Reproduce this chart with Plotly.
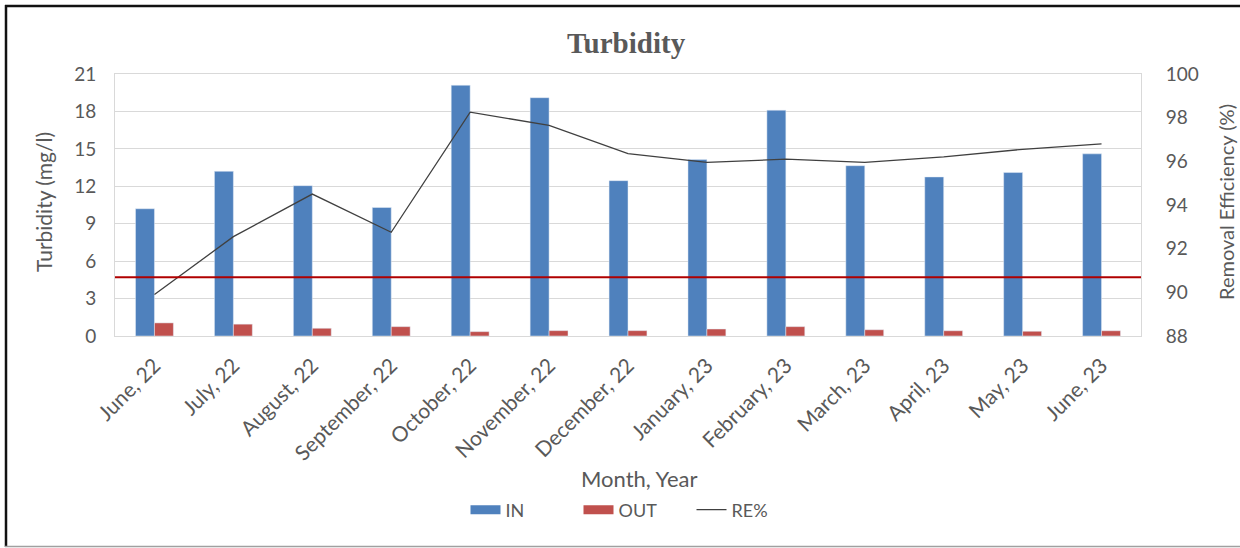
import plotly.graph_objects as go

# Monthly turbidity data (inlet / outlet) and removal efficiency
months = ["June, 22", "July, 22", "August, 22", "September, 22", "October, 22",
          "November, 22", "December, 22", "January, 23", "February, 23",
          "March, 23", "April, 23", "May, 23", "June, 23"]
turb_in = [10.2, 13.2, 12.05, 10.3, 20.1, 19.1, 12.45, 14.15, 18.1,
           13.65, 12.75, 13.1, 14.6]
turb_out = [1.05, 0.95, 0.62, 0.75, 0.35, 0.43, 0.43, 0.56, 0.75,
            0.5, 0.42, 0.38, 0.42]
removal_eff = [89.9, 92.55, 94.5, 92.75, 98.25, 97.65, 96.35, 95.95, 96.1,
               95.95, 96.2, 96.55, 96.8]
left_ticks = [0, 3, 6, 9, 12, 15, 18, 21]
right_ticks = [88, 90, 92, 94, 96, 98, 100]
limit_line = 4.7

FONT = "Lato"
GREY = "#595959"
BLUE = "#4F81BD"
RED = "#C0504D"

# plot-area geometry in pixels (for converting frame position to paper coords)
W, H = 1240, 548
L, R, T, B = 115, 99, 74, 212
pw, ph = W - L - R, H - T - B


def px_x(x):
    return (x - L) / pw


def px_y(y):
    return (H - B - y) / ph


fig = go.Figure()
fig.add_trace(go.Bar(x=months, y=turb_in, name="IN", marker_color=BLUE,
                     yaxis="y", legendgroup="in", showlegend=False))
fig.add_trace(go.Bar(x=months, y=turb_out, name="OUT", marker_color=RED,
                     yaxis="y", legendgroup="out", showlegend=False))
fig.add_trace(go.Scatter(x=months, y=removal_eff, name="RE%", mode="lines",
                         line=dict(color="#404040", width=1.3), yaxis="y2",
                         showlegend=False, legendgroup="re"))

# legend entries drawn as wide swatches
fig.add_trace(go.Scatter(x=[None], y=[None], mode="lines", name="IN",
                         line=dict(color=BLUE, width=9), legendgroup="in"))
fig.add_trace(go.Scatter(x=[None], y=[None], mode="lines", name="OUT",
                         line=dict(color=RED, width=9), legendgroup="out"))
fig.add_trace(go.Scatter(x=[None], y=[None], mode="lines", name="RE%",
                         line=dict(color="#404040", width=1.3),
                         legendgroup="re"))

shapes = [
    # threshold line
    dict(type="line", xref="paper", yref="y", x0=0, x1=1, y0=limit_line,
         y1=limit_line, line=dict(color="#B00000", width=2)),
    # chart frame
    dict(type="line", xref="paper", yref="paper", x0=px_x(5), x1=px_x(1240),
         y0=px_y(6), y1=px_y(6), line=dict(color="#111111", width=2.5)),
    dict(type="line", xref="paper", yref="paper", x0=px_x(6), x1=px_x(6),
         y0=px_y(5), y1=px_y(547), line=dict(color="#111111", width=2.5)),
    dict(type="line", xref="paper", yref="paper", x0=px_x(5), x1=px_x(1240),
         y0=px_y(546.5), y1=px_y(546.5), line=dict(color="#A0A0A0", width=1.5)),
]

annotations = [
    dict(text="Turbidity (mg/l)", xref="paper", yref="paper",
         x=px_x(43), y=px_y(202), xanchor="center", yanchor="middle",
         textangle=-90, showarrow=False,
         font=dict(family=FONT, size=21, color=GREY)),
    dict(text="Removal Efficiency (%)", xref="paper", yref="paper",
         x=px_x(1226), y=px_y(202), xanchor="center", yanchor="middle",
         textangle=-90, showarrow=False,
         font=dict(family=FONT, size=20, color=GREY)),
    dict(text="Month, Year", xref="paper", yref="paper",
         x=px_x(639), y=px_y(478), xanchor="center", yanchor="middle",
         showarrow=False, font=dict(family=FONT, size=22, color=GREY)),
]

fig.update_layout(
    width=W, height=H,
    margin=dict(l=L, r=R, t=T, b=B),
    paper_bgcolor="white", plot_bgcolor="white",
    title=dict(text="<b>Turbidity</b>", x=px_x(633), xanchor="center",
               y=1 - 43 / H, yanchor="middle",
               font=dict(family="Liberation Serif", size=29, color=GREY)),
    barmode="group", bargap=0.52, bargroupgap=0,
    xaxis=dict(type="category", tickangle=-45, showgrid=False,
               tickfont=dict(family=FONT, size=21, color=GREY),
               showline=True, linecolor="#D9D9D9", linewidth=1, mirror=True,
               ticks="", ticklabelstandoff=8),
    yaxis=dict(range=[0, 21], tickvals=left_ticks, showgrid=True,
               gridcolor="#D9D9D9", gridwidth=1, zeroline=False,
               tickfont=dict(family=FONT, size=19, color=GREY),
               showline=True, linecolor="#D9D9D9", ticks="", ticklabelstandoff=14),
    yaxis2=dict(range=[88, 100], tickvals=right_ticks, overlaying="y",
                side="right", showgrid=False, zeroline=False,
                tickfont=dict(family=FONT, size=19, color=GREY),
                showline=True, linecolor="#D9D9D9", ticks="",
                ticklabelstandoff=20),
    legend=dict(orientation="h", xanchor="center", x=px_x(635),
                yanchor="middle", y=px_y(510), entrywidth=68,
                entrywidthmode="pixels",
                font=dict(family=FONT, size=18, color=GREY),
                traceorder="normal", itemclick=False, itemdoubleclick=False),
    shapes=shapes,
    annotations=annotations,
    showlegend=True,
)

fig.write_html("out.html")
